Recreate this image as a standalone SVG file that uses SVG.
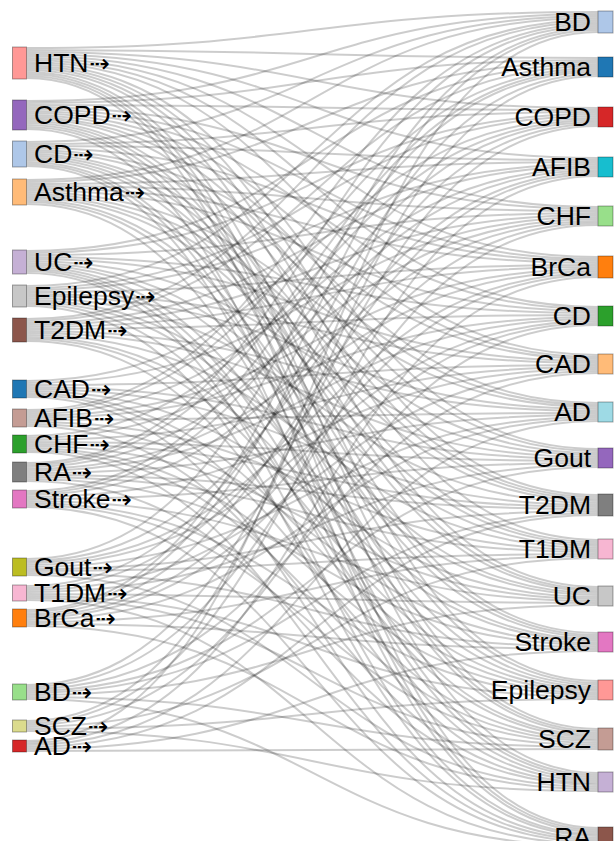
<svg xmlns="http://www.w3.org/2000/svg" width="616" height="841" viewBox="0 0 616 841">
<style>
.link{fill:none;stroke:#000;stroke-opacity:.2;stroke-width:2}
.node rect{stroke:#000;stroke-opacity:.35;stroke-width:1}
.lbl{font-family:"Liberation Sans",Arial,sans-serif;font-size:26.5px;fill:#000}
.r{text-anchor:end}
.arr{font-family:"DejaVu Sans",sans-serif;font-size:25px}
</style>
<rect width="616" height="841" fill="#fff"/>
<g id="links" class="link">
<path d="M26.5 48C312 48 312 12 598 12"/><path d="M26.5 50C312 50 312 58 598 58"/><path d="M26.5 52C312 52 312 108 598 108"/><path d="M26.5 54C312 54 312 158 598 158"/><path d="M26.5 56C312 56 312 207 598 207"/><path d="M26.5 58C312 58 312 257 598 257"/><path d="M26.5 60C312 60 312 307 598 307"/><path d="M26.5 62C312 62 312 355 598 355"/><path d="M26.5 64C312 64 312 449 598 449"/><path d="M26.5 66C312 66 312 495 598 495"/><path d="M26.5 68C312 68 312 540 598 540"/><path d="M26.5 70C312 70 312 587 598 587"/><path d="M26.5 72C312 72 312 681 598 681"/><path d="M26.5 74C312 74 312 729 598 729"/><path d="M26.5 76C312 76 312 773 598 773"/><path d="M26.5 78C312 78 312 828 598 828"/>
<path d="M26.5 101C312 101 312 14 598 14"/><path d="M26.5 103C312 103 312 60 598 60"/><path d="M26.5 105C312 105 312 110 598 110"/><path d="M26.5 107C312 107 312 209 598 209"/><path d="M26.5 109C312 109 312 259 598 259"/><path d="M26.5 111C312 111 312 309 598 309"/><path d="M26.5 113C312 113 312 357 598 357"/><path d="M26.5 115C312 115 312 403 598 403"/><path d="M26.5 117C312 117 312 451 598 451"/><path d="M26.5 119C312 119 312 497 598 497"/><path d="M26.5 121C312 121 312 589 598 589"/><path d="M26.5 123C312 123 312 633 598 633"/><path d="M26.5 125C312 125 312 683 598 683"/><path d="M26.5 127C312 127 312 731 598 731"/><path d="M26.5 129C312 129 312 830 598 830"/>
<path d="M26.5 142C312 142 312 16 598 16"/><path d="M26.5 144C312 144 312 112 598 112"/><path d="M26.5 146C312 146 312 160 598 160"/><path d="M26.5 148C312 148 312 261 598 261"/><path d="M26.5 150C312 150 312 359 598 359"/><path d="M26.5 152C312 152 312 405 598 405"/><path d="M26.5 154C312 154 312 499 598 499"/><path d="M26.5 156C312 156 312 542 598 542"/><path d="M26.5 158C312 158 312 591 598 591"/><path d="M26.5 160C312 160 312 635 598 635"/><path d="M26.5 162C312 162 312 733 598 733"/><path d="M26.5 164C312 164 312 775 598 775"/><path d="M26.5 166C312 166 312 832 598 832"/>
<path d="M26.5 180C312 180 312 18 598 18"/><path d="M26.5 182C312 182 312 62 598 62"/><path d="M26.5 184C312 184 312 162 598 162"/><path d="M26.5 186C312 186 312 211 598 211"/><path d="M26.5 188C312 188 312 263 598 263"/><path d="M26.5 190C312 190 312 311 598 311"/><path d="M26.5 192C312 192 312 407 598 407"/><path d="M26.5 194C312 194 312 453 598 453"/><path d="M26.5 196C312 196 312 501 598 501"/><path d="M26.5 198C312 198 312 544 598 544"/><path d="M26.5 200C312 200 312 637 598 637"/><path d="M26.5 202C312 202 312 685 598 685"/><path d="M26.5 204C312 204 312 777 598 777"/>
<path d="M26.5 251C312 251 312 64 598 64"/><path d="M26.5 253C312 253 312 114 598 114"/><path d="M26.5 255C312 255 312 213 598 213"/><path d="M26.5 257C312 257 312 313 598 313"/><path d="M26.5 259C312 259 312 361 598 361"/><path d="M26.5 261C312 261 312 455 598 455"/><path d="M26.5 263C312 263 312 546 598 546"/><path d="M26.5 265C312 265 312 593 598 593"/><path d="M26.5 267C312 267 312 687 598 687"/><path d="M26.5 269C312 269 312 735 598 735"/><path d="M26.5 271C312 271 312 779 598 779"/><path d="M26.5 273C312 273 312 834 598 834"/>
<path d="M26.5 286C312 286 312 20 598 20"/><path d="M26.5 288C312 288 312 116 598 116"/><path d="M26.5 290C312 290 312 164 598 164"/><path d="M26.5 292C312 292 312 265 598 265"/><path d="M26.5 294C312 294 312 363 598 363"/><path d="M26.5 296C312 296 312 409 598 409"/><path d="M26.5 298C312 298 312 503 598 503"/><path d="M26.5 300C312 300 312 595 598 595"/><path d="M26.5 302C312 302 312 639 598 639"/><path d="M26.5 304C312 304 312 737 598 737"/><path d="M26.5 306C312 306 312 836 598 836"/>
<path d="M26.5 319C312 319 312 22 598 22"/><path d="M26.5 321C312 321 312 66 598 66"/><path d="M26.5 323C312 323 312 166 598 166"/><path d="M26.5 325C312 325 312 215 598 215"/><path d="M26.5 327C312 327 312 267 598 267"/><path d="M26.5 329C312 329 312 315 598 315"/><path d="M26.5 331C312 331 312 411 598 411"/><path d="M26.5 333C312 333 312 457 598 457"/><path d="M26.5 335C312 335 312 548 598 548"/><path d="M26.5 337C312 337 312 641 598 641"/><path d="M26.5 339C312 339 312 689 598 689"/><path d="M26.5 341C312 341 312 781 598 781"/>
<path d="M26.5 381C312 381 312 118 598 118"/><path d="M26.5 383C312 383 312 217 598 217"/><path d="M26.5 385C312 385 312 365 598 365"/><path d="M26.5 387C312 387 312 459 598 459"/><path d="M26.5 389C312 389 312 505 598 505"/><path d="M26.5 391C312 391 312 597 598 597"/><path d="M26.5 393C312 393 312 691 598 691"/><path d="M26.5 395C312 395 312 739 598 739"/><path d="M26.5 397C312 397 312 838 598 838"/>
<path d="M26.5 410C312 410 312 24 598 24"/><path d="M26.5 412C312 412 312 68 598 68"/><path d="M26.5 414C312 414 312 168 598 168"/><path d="M26.5 416C312 416 312 269 598 269"/><path d="M26.5 418C312 418 312 317 598 317"/><path d="M26.5 420C312 420 312 413 598 413"/><path d="M26.5 422C312 422 312 550 598 550"/><path d="M26.5 424C312 424 312 643 598 643"/><path d="M26.5 426C312 426 312 783 598 783"/>
<path d="M26.5 436C312 436 312 120 598 120"/><path d="M26.5 438C312 438 312 219 598 219"/><path d="M26.5 440C312 440 312 367 598 367"/><path d="M26.5 442C312 442 312 461 598 461"/><path d="M26.5 444C312 444 312 507 598 507"/><path d="M26.5 446C312 446 312 599 598 599"/><path d="M26.5 448C312 448 312 693 598 693"/><path d="M26.5 450C312 450 312 741 598 741"/><path d="M26.5 452C312 452 312 840 598 840"/>
<path d="M26.5 463C312 463 312 26 598 26"/><path d="M26.5 465C312 465 312 70 598 70"/><path d="M26.5 467C312 467 312 170 598 170"/><path d="M26.5 469C312 469 312 271 598 271"/><path d="M26.5 471C312 471 312 319 598 319"/><path d="M26.5 473C312 473 312 415 598 415"/><path d="M26.5 475C312 475 312 509 598 509"/><path d="M26.5 477C312 477 312 552 598 552"/><path d="M26.5 479C312 479 312 645 598 645"/><path d="M26.5 481C312 481 312 785 598 785"/>
<path d="M26.5 491C312 491 312 72 598 72"/><path d="M26.5 493C312 493 312 122 598 122"/><path d="M26.5 495C312 495 312 221 598 221"/><path d="M26.5 497C312 497 312 369 598 369"/><path d="M26.5 499C312 499 312 463 598 463"/><path d="M26.5 501C312 501 312 601 598 601"/><path d="M26.5 503C312 503 312 695 598 695"/><path d="M26.5 505C312 505 312 743 598 743"/><path d="M26.5 507C312 507 312 842 598 842"/>
<path d="M26.5 559C312 559 312 28 598 28"/><path d="M26.5 561C312 561 312 172 598 172"/><path d="M26.5 563C312 563 312 273 598 273"/><path d="M26.5 565C312 565 312 321 598 321"/><path d="M26.5 567C312 567 312 417 598 417"/><path d="M26.5 569C312 569 312 511 598 511"/><path d="M26.5 571C312 571 312 554 598 554"/><path d="M26.5 573C312 573 312 647 598 647"/><path d="M26.5 575C312 575 312 787 598 787"/>
<path d="M26.5 586C312 586 312 124 598 124"/><path d="M26.5 588C312 588 312 223 598 223"/><path d="M26.5 590C312 590 312 371 598 371"/><path d="M26.5 592C312 592 312 465 598 465"/><path d="M26.5 594C312 594 312 603 598 603"/><path d="M26.5 596C312 596 312 697 598 697"/><path d="M26.5 598C312 598 312 745 598 745"/><path d="M26.5 600C312 600 312 844 598 844"/>
<path d="M26.5 610C312 610 312 30 598 30"/><path d="M26.5 612C312 612 312 74 598 74"/><path d="M26.5 614C312 614 312 174 598 174"/><path d="M26.5 616C312 616 312 275 598 275"/><path d="M26.5 618C312 618 312 323 598 323"/><path d="M26.5 620C312 620 312 419 598 419"/><path d="M26.5 622C312 622 312 556 598 556"/><path d="M26.5 624C312 624 312 649 598 649"/><path d="M26.5 626C312 626 312 789 598 789"/>
<path d="M26.5 685C312 685 312 126 598 126"/><path d="M26.5 687C312 687 312 225 598 225"/><path d="M26.5 689C312 689 312 373 598 373"/><path d="M26.5 691C312 691 312 467 598 467"/><path d="M26.5 693C312 693 312 513 598 513"/><path d="M26.5 695C312 695 312 605 598 605"/><path d="M26.5 697C312 697 312 747 598 747"/><path d="M26.5 699C312 699 312 846 598 846"/>
<path d="M26.5 721C312 721 312 76 598 76"/><path d="M26.5 723C312 723 312 176 598 176"/><path d="M26.5 725C312 725 312 325 598 325"/><path d="M26.5 727C312 727 312 558 598 558"/><path d="M26.5 729C312 729 312 699 598 699"/><path d="M26.5 731C312 731 312 791 598 791"/>
<path d="M26.5 741C312 741 312 32 598 32"/><path d="M26.5 743C312 743 312 277 598 277"/><path d="M26.5 745C312 745 312 421 598 421"/><path d="M26.5 747C312 747 312 515 598 515"/><path d="M26.5 749C312 749 312 651 598 651"/><path d="M26.5 751C312 751 312 749 598 749"/>
</g>
<g id="src-HTN" class="node"><rect x="12.5" y="47" width="14" height="32" fill="#ff9896"/><text class="lbl" x="34" y="63" dy="0.35em">HTN<tspan class="arr" dx="1">⇢</tspan></text></g>
<g id="src-COPD" class="node"><rect x="12.5" y="100" width="14" height="30" fill="#9467bd"/><text class="lbl" x="34" y="115" dy="0.35em">COPD<tspan class="arr" dx="1">⇢</tspan></text></g>
<g id="src-CD" class="node"><rect x="12.5" y="141" width="14" height="26" fill="#aec7e8"/><text class="lbl" x="34" y="154" dy="0.35em">CD<tspan class="arr" dx="1">⇢</tspan></text></g>
<g id="src-Asthma" class="node"><rect x="12.5" y="179" width="14" height="26" fill="#ffbb78"/><text class="lbl" x="34" y="192" dy="0.35em">Asthma<tspan class="arr" dx="1">⇢</tspan></text></g>
<g id="src-UC" class="node"><rect x="12.5" y="250" width="14" height="24" fill="#c5b0d5"/><text class="lbl" x="34" y="262" dy="0.35em">UC<tspan class="arr" dx="1">⇢</tspan></text></g>
<g id="src-Epilepsy" class="node"><rect x="12.5" y="285" width="14" height="22" fill="#c7c7c7"/><text class="lbl" x="34" y="296" dy="0.35em">Epilepsy<tspan class="arr" dx="1">⇢</tspan></text></g>
<g id="src-T2DM" class="node"><rect x="12.5" y="318" width="14" height="24" fill="#8c564b"/><text class="lbl" x="34" y="330" dy="0.35em">T2DM<tspan class="arr" dx="1">⇢</tspan></text></g>
<g id="src-CAD" class="node"><rect x="12.5" y="380" width="14" height="18" fill="#1f77b4"/><text class="lbl" x="34" y="389" dy="0.35em">CAD<tspan class="arr" dx="1">⇢</tspan></text></g>
<g id="src-AFIB" class="node"><rect x="12.5" y="409" width="14" height="18" fill="#c49c94"/><text class="lbl" x="34" y="418" dy="0.35em">AFIB<tspan class="arr" dx="1">⇢</tspan></text></g>
<g id="src-CHF" class="node"><rect x="12.5" y="435" width="14" height="18" fill="#2ca02c"/><text class="lbl" x="34" y="444" dy="0.35em">CHF<tspan class="arr" dx="1">⇢</tspan></text></g>
<g id="src-RA" class="node"><rect x="12.5" y="462" width="14" height="20" fill="#7f7f7f"/><text class="lbl" x="34" y="472" dy="0.35em">RA<tspan class="arr" dx="1">⇢</tspan></text></g>
<g id="src-Stroke" class="node"><rect x="12.5" y="490" width="14" height="18" fill="#e377c2"/><text class="lbl" x="34" y="499" dy="0.35em">Stroke<tspan class="arr" dx="1">⇢</tspan></text></g>
<g id="src-Gout" class="node"><rect x="12.5" y="558" width="14" height="18" fill="#bcbd22"/><text class="lbl" x="34" y="567" dy="0.35em">Gout<tspan class="arr" dx="1">⇢</tspan></text></g>
<g id="src-T1DM" class="node"><rect x="12.5" y="585" width="14" height="16" fill="#f7b6d2"/><text class="lbl" x="34" y="593" dy="0.35em">T1DM<tspan class="arr" dx="1">⇢</tspan></text></g>
<g id="src-BrCa" class="node"><rect x="12.5" y="609" width="14" height="18" fill="#ff7f0e"/><text class="lbl" x="34" y="618" dy="0.35em">BrCa<tspan class="arr" dx="1">⇢</tspan></text></g>
<g id="src-BD" class="node"><rect x="12.5" y="684" width="14" height="16" fill="#98df8a"/><text class="lbl" x="34" y="692" dy="0.35em">BD<tspan class="arr" dx="1">⇢</tspan></text></g>
<g id="src-SCZ" class="node"><rect x="12.5" y="720" width="14" height="12" fill="#dbdb8d"/><text class="lbl" x="34" y="726" dy="0.35em">SCZ<tspan class="arr" dx="1">⇢</tspan></text></g>
<g id="src-AD" class="node"><rect x="12.5" y="740" width="14" height="12" fill="#d62728"/><text class="lbl" x="34" y="746" dy="0.35em">AD<tspan class="arr" dx="1">⇢</tspan></text></g>
<g id="tgt-BD" class="node"><rect x="598" y="11" width="15" height="22" fill="#aec7e8"/><text class="lbl r" x="591" y="22" dy="0.35em">BD</text></g>
<g id="tgt-Asthma" class="node"><rect x="598" y="57" width="15" height="20" fill="#1f77b4"/><text class="lbl r" x="591" y="67" dy="0.35em">Asthma</text></g>
<g id="tgt-COPD" class="node"><rect x="598" y="107" width="15" height="20" fill="#d62728"/><text class="lbl r" x="591" y="117" dy="0.35em">COPD</text></g>
<g id="tgt-AFIB" class="node"><rect x="598" y="157" width="15" height="20" fill="#17becf"/><text class="lbl r" x="591" y="167" dy="0.35em">AFIB</text></g>
<g id="tgt-CHF" class="node"><rect x="598" y="206" width="15" height="20" fill="#98df8a"/><text class="lbl r" x="591" y="216" dy="0.35em">CHF</text></g>
<g id="tgt-BrCa" class="node"><rect x="598" y="256" width="15" height="22" fill="#ff7f0e"/><text class="lbl r" x="591" y="267" dy="0.35em">BrCa</text></g>
<g id="tgt-CD" class="node"><rect x="598" y="306" width="15" height="20" fill="#2ca02c"/><text class="lbl r" x="591" y="316" dy="0.35em">CD</text></g>
<g id="tgt-CAD" class="node"><rect x="598" y="354" width="15" height="20" fill="#ffbb78"/><text class="lbl r" x="591" y="364" dy="0.35em">CAD</text></g>
<g id="tgt-AD" class="node"><rect x="598" y="402" width="15" height="20" fill="#9edae5"/><text class="lbl r" x="591" y="412" dy="0.35em">AD</text></g>
<g id="tgt-Gout" class="node"><rect x="598" y="448" width="15" height="20" fill="#9467bd"/><text class="lbl r" x="591" y="458" dy="0.35em">Gout</text></g>
<g id="tgt-T2DM" class="node"><rect x="598" y="494" width="15" height="22" fill="#7f7f7f"/><text class="lbl r" x="591" y="505" dy="0.35em">T2DM</text></g>
<g id="tgt-T1DM" class="node"><rect x="598" y="539" width="15" height="20" fill="#f7b6d2"/><text class="lbl r" x="591" y="549" dy="0.35em">T1DM</text></g>
<g id="tgt-UC" class="node"><rect x="598" y="586" width="15" height="20" fill="#c7c7c7"/><text class="lbl r" x="591" y="596" dy="0.35em">UC</text></g>
<g id="tgt-Stroke" class="node"><rect x="598" y="632" width="15" height="20" fill="#e377c2"/><text class="lbl r" x="591" y="642" dy="0.35em">Stroke</text></g>
<g id="tgt-Epilepsy" class="node"><rect x="598" y="680" width="15" height="20" fill="#ff9896"/><text class="lbl r" x="591" y="690" dy="0.35em">Epilepsy</text></g>
<g id="tgt-SCZ" class="node"><rect x="598" y="728" width="15" height="22" fill="#c49c94"/><text class="lbl r" x="591" y="739" dy="0.35em">SCZ</text></g>
<g id="tgt-HTN" class="node"><rect x="598" y="772" width="15" height="20" fill="#c5b0d5"/><text class="lbl r" x="591" y="782" dy="0.35em">HTN</text></g>
<g id="tgt-RA" class="node"><rect x="598" y="827" width="15" height="20" fill="#8c564b"/><text class="lbl r" x="591" y="837" dy="0.35em">RA</text></g>
</svg>
